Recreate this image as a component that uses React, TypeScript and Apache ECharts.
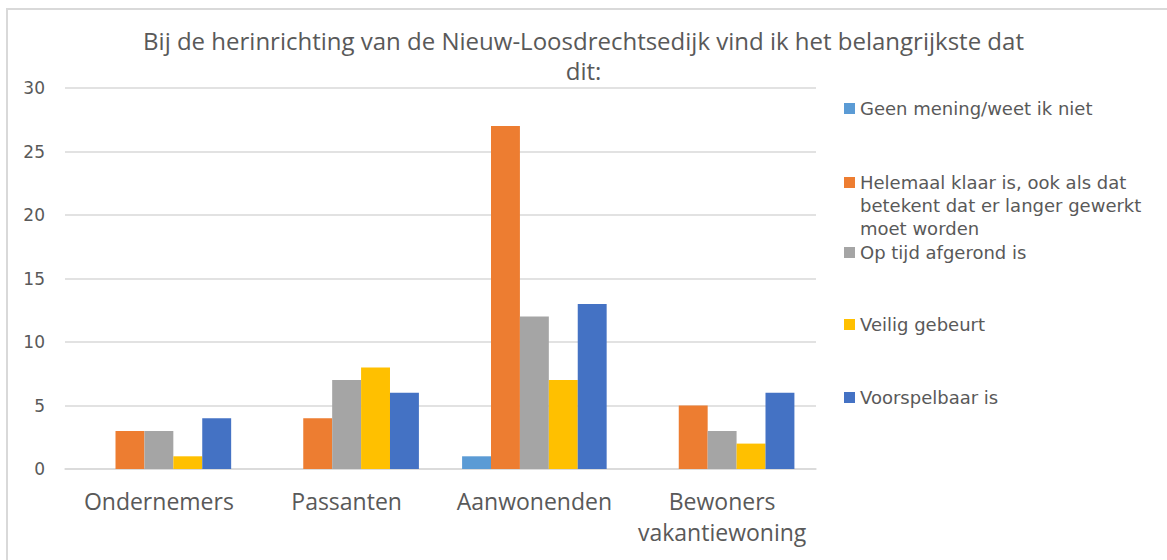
import React, { useEffect, useRef } from "react";
import * as echarts from "echarts";

const categories = ["Ondernemers", "Passanten", "Aanwonenden", "Bewoners\nvakantiewoning"];
const seriesNames = [
  "Geen mening/weet ik niet",
  "Helemaal klaar is, ook als dat betekent dat er langer gewerkt moet worden",
  "Op tijd afgerond is",
  "Veilig gebeurt",
  "Voorspelbaar is",
];
const geenMening = [0, 0, 1, 0];
const helemaalKlaar = [3, 4, 27, 5];
const opTijd = [3, 7, 12, 3];
const veilig = [1, 8, 7, 2];
const voorspelbaar = [4, 6, 13, 6];
const seriesValues = [geenMening, helemaalKlaar, opTijd, veilig, voorspelbaar];
const colors = ["#5B9BD5", "#ED7D31", "#A5A5A5", "#FFC000", "#4472C4"];
const yTicks = [0, 5, 10, 15, 20, 25, 30];
const legendTops = [97, 125, 241, 313, 386];

export default function App() {
  const ref = useRef<HTMLDivElement>(null);
  useEffect(() => {
    document.body.style.margin = "0";
    if (!ref.current) return;
    const chart = echarts.init(ref.current, null, { renderer: "svg" });
    const L = 23;
    chart.setOption({
      animation: false,
      backgroundColor: "#ffffff",
      title: {
        text: "Bij de herinrichting van de Nieuw-Loosdrechtsedijk vind ik het belangrijkste dat\ndit:",
        left: "center",
        top: 25,
        padding: 0,
        textStyle: {
          fontFamily: "Open Sans",
          fontWeight: "normal",
          fontSize: 24,
          color: "#595959",
          lineHeight: 30,
        },
      },
      grid: { left: 65, top: 88, width: 751, height: 381, containLabel: false },
      xAxis: {
        type: "category",
        data: categories,
        axisLine: { lineStyle: { color: "#d9d9d9", width: 1.5 } },
        axisTick: { show: false },
        axisLabel: {
          fontFamily: "Open Sans",
          fontSize: 23,
          color: "#595959",
          margin: 16,
          lineHeight: 31,
          interval: 0,
        },
      },
      yAxis: {
        type: "value",
        min: yTicks[0],
        max: yTicks[yTicks.length - 1],
        interval: 5,
        axisLine: { show: false },
        axisTick: { show: false },
        splitLine: { lineStyle: { color: "#d9d9d9", width: 1.5 } },
        axisLabel: {
          fontFamily: "DejaVu Sans",
          fontSize: 17,
          color: "#595959",
          margin: 20,
        },
      },
      legend: seriesNames.map((n, i) => ({
        data: [n],
        orient: "vertical",
        left: 844,
        top: legendTops[i],
        padding: 0,
        itemWidth: 11,
        itemHeight: 11,
        itemGap: 0,
        icon: "rect",
        formatter: (name: string) =>
          name === seriesNames[1]
            ? "\n\nHelemaal klaar is, ook als dat\nbetekent dat er langer gewerkt\nmoet worden"
            : name,
        textStyle: {
          fontFamily: "DejaVu Sans",
          fontSize: 18,
          color: "#595959",
          lineHeight: L,
        },
      })),
      series: seriesNames.map((n, i) => ({
        name: n,
        type: "bar",
        data: seriesValues[i],
        barGap: "0%",
        barCategoryGap: "23%",
        itemStyle: { color: colors[i] },
      })),
      graphic: [
        {
          type: "polyline",
          shape: { points: [[7, 560], [7, 9], [1167, 9]] },
          style: { stroke: "#d9d9d9", lineWidth: 2, fill: "none" },
          silent: true,
        },
      ],
    });
    return () => chart.dispose();
  }, []);
  return <div ref={ref} style={{ width: 1167, height: 560 }} />;
}
